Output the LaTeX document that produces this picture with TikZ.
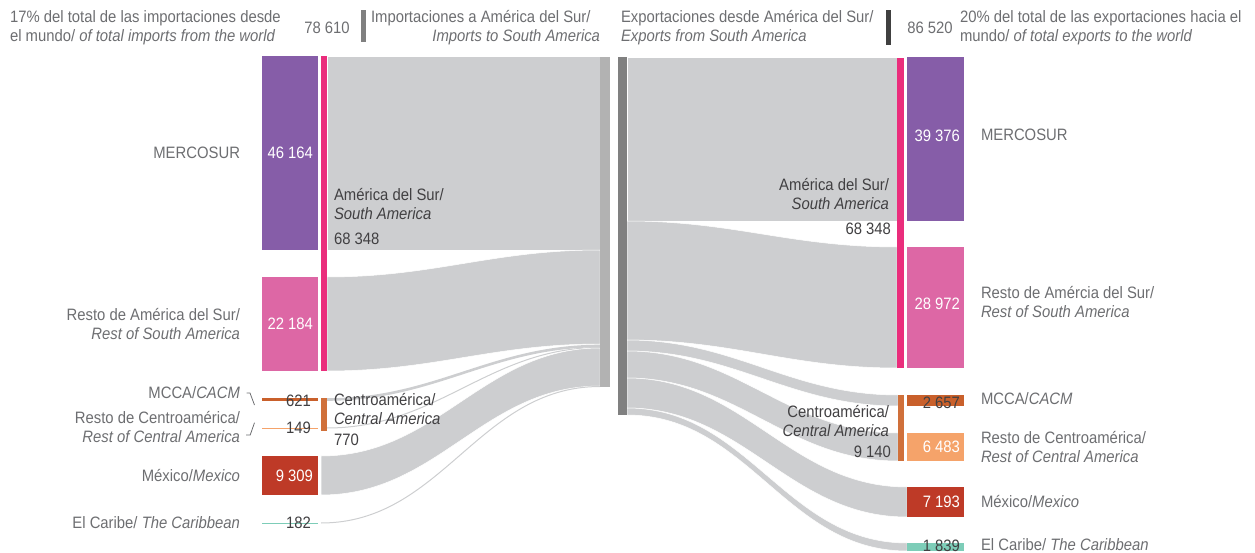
\documentclass[tikz,border=0pt]{standalone}
\usepackage{fontspec}
\setmainfont{Liberation Sans}[FakeStretch=0.9]
\usepackage{tikz}
\usetikzlibrary{positioning}
\usetikzlibrary{calc}
\usetikzlibrary{backgrounds}

\definecolor{merc}{HTML}{865DA8}
\definecolor{restsa}{HTML}{DD67A5}
\definecolor{sabar}{HTML}{EA2D7C}
\definecolor{mcca}{HTML}{C9602B}
\definecolor{cabar}{HTML}{D0703A}
\definecolor{restca}{HTML}{F5A36A}
\definecolor{mex}{HTML}{BE3A27}
\definecolor{carib}{HTML}{7DCDB8}
\definecolor{flowgray}{HTML}{CDCED0}
\definecolor{inbar}{HTML}{B2B2B2}
\definecolor{outbar}{HTML}{808080}
\definecolor{headbar}{HTML}{404040}
\definecolor{txtgray}{HTML}{6D6E71}
\definecolor{txtdark}{HTML}{414042}

\tikzset{every node/.style={font=\fontsize{16.5}{19}\selectfont,inner sep=0pt,outer sep=0pt},
box/.style={anchor=north west,minimum width=56pt},
bar/.style={anchor=north west,minimum width=6pt},
num/.style={anchor=east,text=white},
lbl/.style={text=txtgray},
mid/.style={text=txtdark},
flow/.style={fill=flowgray,draw=white,line width=0.5pt},
thinflow/.style={draw=flowgray},
lead/.style={draw=txtgray,line width=0.8pt}}

\begin{document}
\begin{tikzpicture}[x=1pt,y=1pt]
\useasboundingbox (0,0) rectangle (1255,-553);

% headers
\node (impT) at (10,-27.5) [lbl,anchor=west,align=left] {17\% del total de las importaciones desde\\el mundo/ \textit{of total imports from the world}};
\node (impV) at (327,-28) [lbl] {78 610};
\node (impH) at (361,-10) [anchor=north west,fill=outbar,minimum width=5pt,minimum height=32pt] {};
\node (impA) at (371,-18) [lbl,anchor=west] {Importaciones a América del Sur/};
\node (impB) at (600,-37) [lbl,anchor=east] {\textit{Imports to South America}};
\node (expT) at (621,-27.5) [lbl,anchor=west,align=left] {Exportaciones desde América del Sur/\\\textit{Exports from South America}};
\node (expH) at (886,-10) [anchor=north west,fill=headbar,minimum width=5pt,minimum height=35pt] {};
\node (expV) at (930,-28) [lbl] {86 520};
\node (expW) at (960,-27.5) [lbl,anchor=west,align=left] {20\% del total de las exportaciones hacia el\\mundo/ \textit{of total exports to the world}};

% imports side
\node (mercL) at (262,-56) [box,fill=merc,minimum height=194pt] {};
\node (restL) at (262,-277) [box,fill=restsa,minimum height=94pt] {};
\node (mccaL) at (262,-398) [box,fill=mcca,minimum height=3pt] {};
\node (rcaL) at (262,-427.5) [box,fill=restca,minimum height=1pt] {};
\node (mexL) at (262,-456) [box,fill=mex,minimum height=39pt] {};
\node (caribL) at (262,-522.5) [box,fill=carib,minimum height=1pt] {};
\node (saL) at (321,-56) [bar,fill=sabar,minimum height=315pt] {};
\node (caL) at (321,-398) [bar,fill=cabar,minimum height=33pt] {};
\node (impL) at (600,-57) [anchor=north west,fill=inbar,minimum width=10pt,minimum height=330pt] {};

\node at (mercL.east) [num,xshift=-5pt] {46 164};
\node at (restL.east) [num,xshift=-5pt] {22 184};
\node at (mccaL.east) [num,text=txtdark,xshift=-7pt,yshift=-1.5pt] {621};
\node at (rcaL.east) [num,text=txtdark,xshift=-7pt] {149};
\node at (mexL.east) [num,xshift=-5pt] {9 309};
\node at (caribL.east) [num,text=txtdark,xshift=-7pt] {182};

\node [lbl,left=22pt of mercL] {MERCOSUR};
\node [lbl,left=22pt of restL,align=right] {Resto de América del Sur/\\\textit{Rest of South America}};
\node (mccaT) at (240,-393) [lbl,anchor=east] {MCCA/\textit{CACM}};
\node (rcaT) at (240,-427.5) [lbl,anchor=east,align=right] {Resto de Centroamérica/\\\textit{Rest of Central America}};
\node [lbl,left=22pt of mexL] {México/\textit{Mexico}};
\node [lbl,left=22pt of caribL] {El Caribe/ \textit{The Caribbean}};
\draw[lead] ($(mccaT.east)+(6.5,0)$) -- ++(3.5,0) -- ++(4.5,-12);
\draw[lead] ($(rcaT.east)+(14.5,4.8)$) -- ++(-4.3,-12.3) -- ++(-4.2,0);

\node (saTL) at (334,-204) [mid,anchor=west,align=left] {América del Sur/\\\textit{South America}};
\node (saVL) at (334,-239) [mid,anchor=west] {68 348};
\node (caTL) at (334,-409.5) [mid,anchor=west,align=left] {Centroamérica/\\\textit{Central America}};
\node (caVL) at (334,-440) [mid,anchor=west] {770};

% exports side
\node (expR) at (618,-57) [anchor=north west,fill=outbar,minimum width=9pt,minimum height=358pt] {};
\node (saR) at (897,-58) [bar,fill=sabar,minimum width=7pt,minimum height=310pt] {};
\node (caR) at (898,-395) [bar,fill=cabar,minimum height=66pt] {};
\node (mercR) at (907,-57) [box,fill=merc,minimum width=57pt,minimum height=164pt] {};
\node (restR) at (907,-247) [box,fill=restsa,minimum width=57pt,minimum height=121pt] {};
\node (mccaR) at (907,-395) [box,fill=mcca,minimum width=57pt,minimum height=11pt] {};
\node (rcaR) at (907,-433) [box,fill=restca,minimum width=57pt,minimum height=28pt] {};
\node (mexR) at (907,-487) [box,fill=mex,minimum width=57pt,minimum height=30pt] {};
\node (caribR) at (907,-543) [box,fill=carib,minimum width=57pt,minimum height=8pt] {};

\node at (mercR.east) [num,xshift=-4pt,yshift=3pt] {39 376};
\node at (restR.east) [num,xshift=-4pt,yshift=4pt] {28 972};
\node at (mccaR.east) [num,text=txtdark,xshift=-4pt,yshift=-2.5pt] {2 657};
\node at (rcaR.east) [num,xshift=-4pt] {6 483};
\node at (mexR.east) [num,xshift=-4pt] {7 193};
\node at (caribR.east) [num,text=txtdark,xshift=-4pt,yshift=1.5pt] {1 839};

\node [lbl,right=17pt of mercR,yshift=4pt] {MERCOSUR};
\node [lbl,right=17pt of restR,align=left,yshift=5pt] {Resto de Amércia del Sur/\\\textit{Rest of South America}};
\node [lbl,right=17pt of mccaR,yshift=2pt] {MCCA/\textit{CACM}};
\node [lbl,right=17pt of rcaR,align=left] {Resto de Centroamérica/\\\textit{Rest of Central America}};
\node [lbl,right=17pt of mexR] {México/\textit{Mexico}};
\node [lbl,right=17pt of caribR,yshift=2pt] {El Caribe/ \textit{The Caribbean}};

\node (saTR) at (889,-194) [mid,anchor=east,align=right] {América del Sur/\\\textit{South America}};
\node (saVR) at (891,-229) [mid,anchor=east] {68 348};
\node (caTR) at (889,-421) [mid,anchor=east,align=right] {Centroamérica/\\\textit{Central America}};
\node (caVR) at (891,-452) [mid,anchor=east] {9 140};

% flow ends on the two grey bars
\coordinate (iLsa) at ($(impL.north west)+(0,-287)$);
\coordinate (iLmc) at ($(impL.north west)+(0,-289)$);
\coordinate (iLrc) at ($(impL.north west)+(0,-290.5)$);
\coordinate (iLmx) at ($(impL.north west)+(0,-291)$);
\coordinate (iLcb) at ($(impL.south west)+(0,0.5)$);
\coordinate (oRsa) at ($(expR.north east)+(0,-164)$);
\coordinate (oRrs) at ($(expR.north east)+(0,-283)$);
\coordinate (oRmc) at ($(expR.north east)+(0,-294)$);
\coordinate (oRrc) at ($(expR.north east)+(0,-321)$);
\coordinate (oRmx) at ($(expR.north east)+(0,-351)$);

\begin{scope}[on background layer]
\fill[flow] (saL.north east) rectangle (impL.west |- mercL.south);
\filldraw[flow] (saL.east |- restL.north) to[out=0,in=180] (impL.west |- mercL.south) -- (iLsa) to[out=180,in=0] (saL.south east) -- cycle;
\draw[thinflow,line width=2.6pt] (caL.east |- mccaL.center) to[out=0,in=180] (iLmc);
\draw[thinflow,line width=1pt] (caL.east |- rcaL.center) to[out=0,in=180] (iLrc);
\filldraw[flow] ($(mexL.north east)+(3,0)$) to[out=0,in=180] (iLmx) -- ($(impL.south west)+(0,1)$) to[out=180,in=0] ($(mexL.south east)+(3,0)$) -- cycle;
\draw[thinflow,line width=1pt] ($(caribL.east)+(3,0)$) to[out=0,in=180] (iLcb);

\filldraw[flow] (expR.north east) rectangle (saR.west |- mercR.south);
\filldraw[flow] (oRsa) to[out=0,in=180] (saR.west |- restR.north) -- (saR.south west) to[out=180,in=0] (oRrs) -- cycle;
\filldraw[flow] (oRrs) to[out=0,in=180] (caR.west |- mccaR.north) -- (caR.west |- mccaR.south) to[out=180,in=0] (oRmc) -- cycle;
\filldraw[flow] (oRmc) to[out=0,in=180] (caR.west |- rcaR.north) -- (caR.west |- rcaR.south) to[out=180,in=0] (oRrc) -- cycle;
\filldraw[flow] (oRrc) to[out=0,in=180] (mexR.north west) -- (mexR.south west) to[out=180,in=0] (oRmx) -- cycle;
\filldraw[flow] (oRmx) to[out=0,in=180] (caribR.north west) -- (caribR.south west) to[out=180,in=0] (expR.south east) -- cycle;
\end{scope}

\end{tikzpicture}
\end{document}
